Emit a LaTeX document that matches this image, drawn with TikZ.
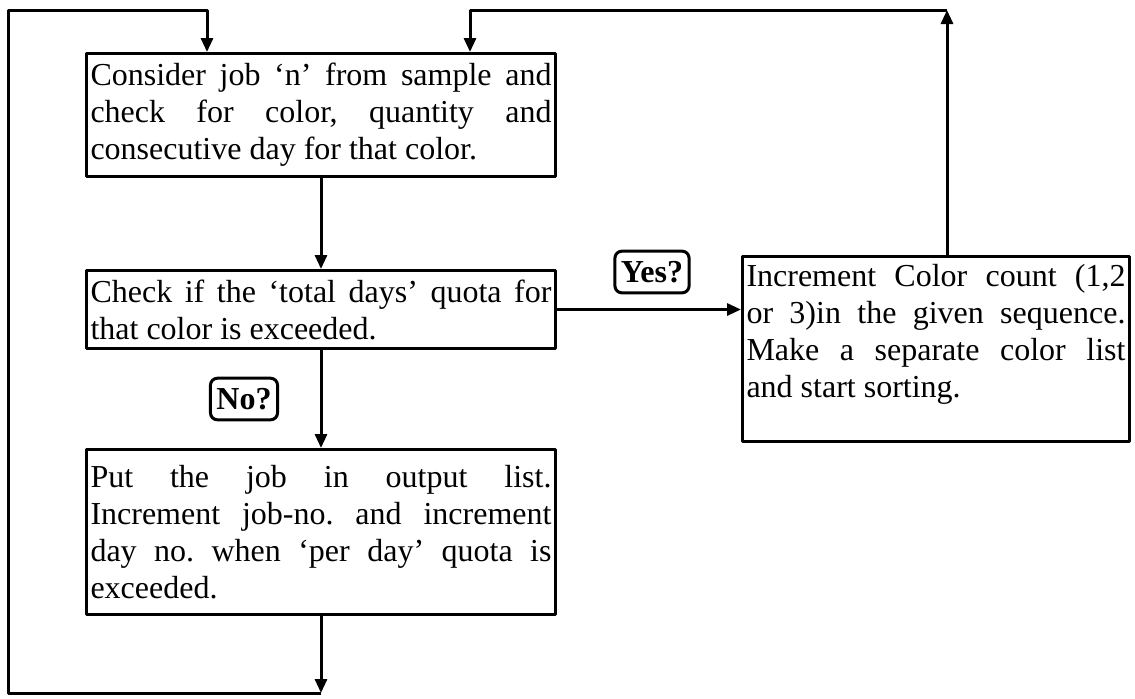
\documentclass[tikz,border=0pt]{standalone}
\usepackage{fontspec}
\setmainfont{Liberation Serif}
\usetikzlibrary{arrows.meta}

\tikzset{
  stepbox/.style={draw, line width=1.5pt, anchor=north west, align=justify,
    inner xsep=2pt, inner ysep=3pt, font=\fontsize{16}{18.5}\selectfont\frenchspacing},
  answer/.style={draw, line width=1.5pt, rounded corners=3.5pt, inner xsep=3pt, inner ysep=5pt,
    font=\bfseries\fontsize{16}{18}\selectfont}
}

\begin{document}
\begin{tikzpicture}[x=0.5pt, y=-0.5pt, line width=1.5pt, line join=round,
    >={Triangle[length=7pt,width=6pt]}]
    \useasboundingbox (0,0) rectangle (1135,698);

    % boxes
    \node[stepbox, text width=230.5pt, minimum height=61.5pt] (consider) at (85,52)
      {Consider job `n' from sample and\linebreak check for color, quantity and\linebreak consecutive day for that color.};
    \node[stepbox, text width=230.5pt, minimum height=39pt] (quota) at (85,269)
      {Check if the `total days' quota for\linebreak that color is exceeded.};
    \node[stepbox, text width=230.5pt, minimum height=82.5pt] (putjob) at (85,448)
      {Put the job in output list.\linebreak Increment job-no. and increment\linebreak day no. when `per day' quota is\linebreak exceeded.};
    \node[stepbox, text width=189.5pt, minimum height=92.5pt] (colorcount) at (741,255)
      {Increment Color count (1,2\linebreak or 3)in the given sequence.\linebreak Make a separate color list\linebreak and start sorting.\\ \mbox{}};

    \node[answer] (yes) at (652,272) {Yes?};
    \node[answer] (no) at (244,399) {No?};

    % loop points
    \coordinate (botleft) at (8,693);
    \coordinate (topleft) at (8,10);
    \coordinate (inleft) at (207,52);
    \coordinate (inright) at (470,52);
    \coordinate (upright) at (947,10);

    \draw[->] (consider.south) -- (quota.north);
    \draw[->] (quota.south) -- (putjob.north);
    \draw[->] (quota.east) -- (quota.east -| colorcount.west);
    \draw[->] (putjob.south) -- (putjob.south |- botleft);
    \draw[->] (putjob.south |- botleft) -- (botleft) -- (topleft) -- (topleft -| inleft) -- (inleft);
    \draw[->] (upright |- colorcount.north) -- (upright);
    \draw[->] (upright) -- (upright -| inright) -- (inright);
\end{tikzpicture}
\end{document}
